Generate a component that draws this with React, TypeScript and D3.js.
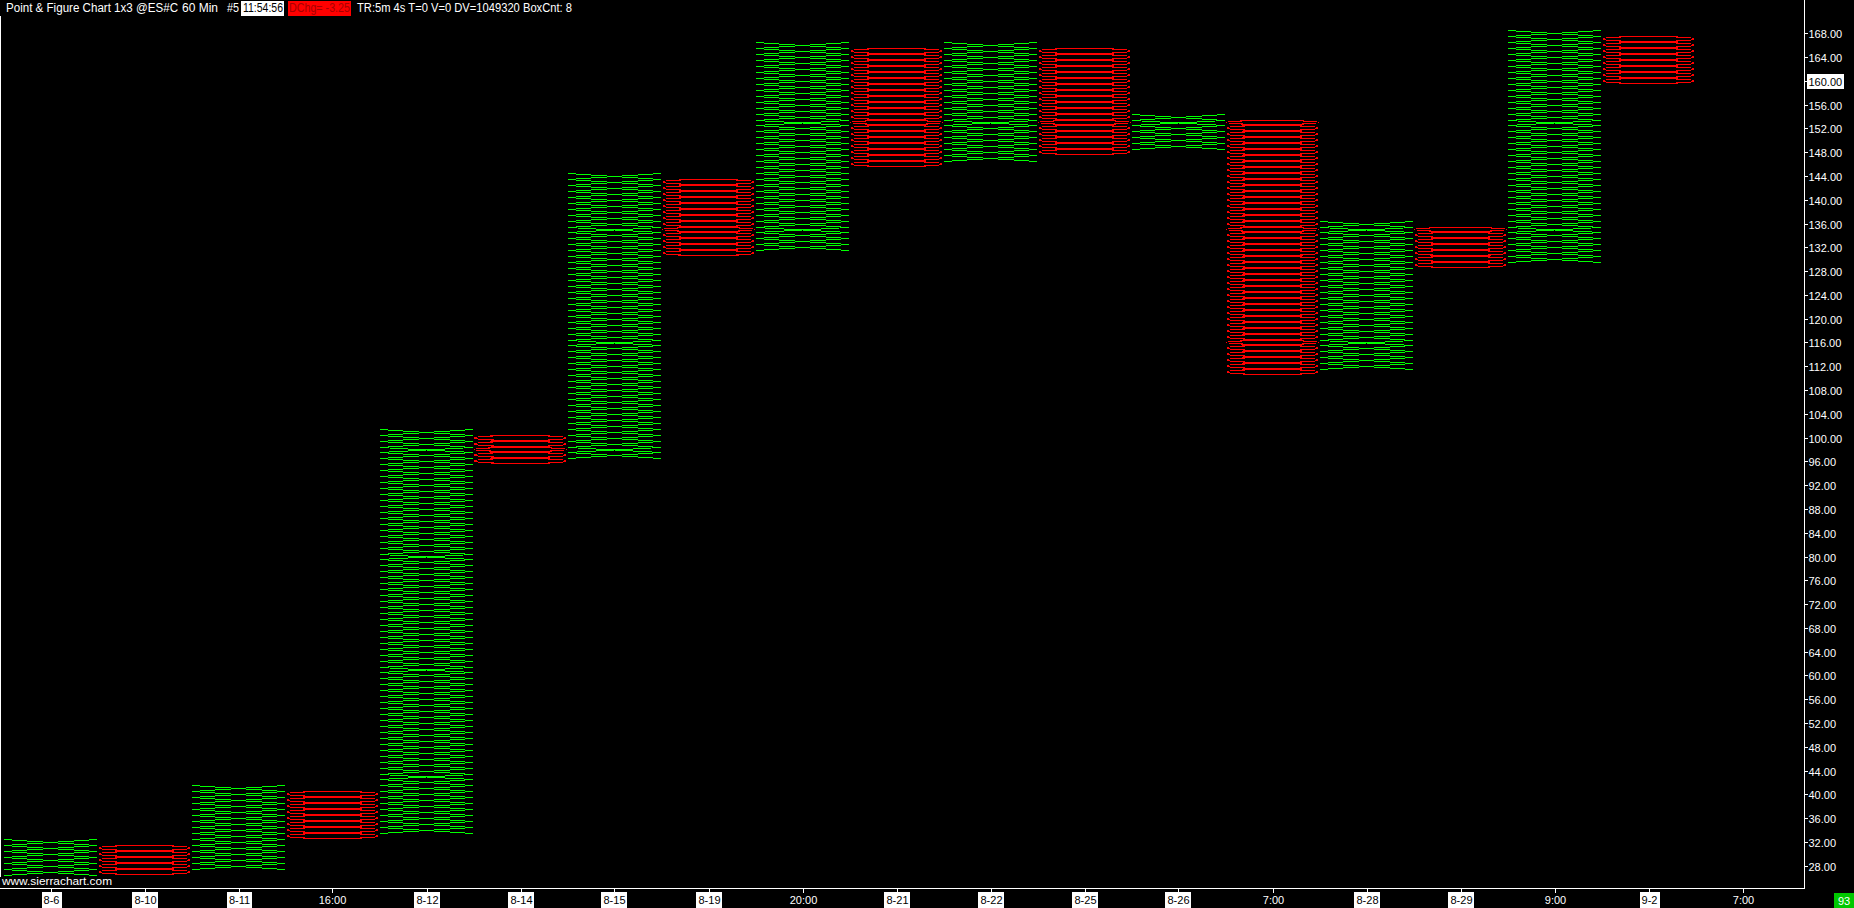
import React from "react";
import * as d3 from "d3";

// ---- data ----
const xLabels = ["8-6", "8-10", "8-11", "16:00", "8-12", "8-14", "8-15", "8-19", "20:00", "8-21", "8-22", "8-25", "8-26", "7:00", "8-28", "8-29", "9:00", "9-2", "7:00"];
const xLabelBoxed = [true, true, true, false, true, true, true, true, false, true, true, true, true, false, true, true, false, true, false];
const colTypes = ["X", "O", "X", "O", "X", "O", "X", "O", "X", "O", "X", "O", "X", "O", "X", "O", "X", "O"];
const colLows = [27, 27, 28, 33, 34, 96, 97, 131, 132, 146, 147, 148, 149, 111, 112, 129, 130, 160];
const colHighs = [32, 31, 41, 40, 101, 100, 144, 143, 166, 165, 166, 165, 154, 153, 136, 135, 168, 167];
const yTicks = d3.range(28, 169, 4);
const lastPrice = 160;
const boxSize = 1;
const titleParts = ["Point & Figure Chart 1x3 @ES#C", "60 Min", "#5", "11:54:56", "DChg= -3.25", "TR:5m 4s T=0 V=0 DV=1049320 BoxCnt: 8"];
const barCountText = "93";
const watermark = "www.sierrachart.com";

const W = 1854;
const H = 908;
const FONT = "'Liberation Sans', Arial, sans-serif";
const GREEN = "#00ff00";
const RED = "#ff0000";

let measureCtx: CanvasRenderingContext2D | null = null;
function textWidth(s: string, size = 11) {
  if (!measureCtx) {
    const c = document.createElement("canvas");
    measureCtx = c.getContext("2d");
  }
  if (!measureCtx) return s.length * 6;
  measureCtx.font = `${size}px 'Liberation Sans', Arial, sans-serif`;
  return measureCtx.measureText(s).width;
}

export default function App() {
  const y = d3.scaleLinear().domain([28, 168]).range([865.7, 33.3]);
  const x = d3.scaleLinear().domain([0, 18]).range([50.5, 1742.5]);
  const half = 46.5;
  const axisX = 1804.5;
  const bottomY = 888.5;

  const marks: React.ReactNode[] = [];
  colTypes.forEach((t, i) => {
    const cx = x(i);
    const L = cx - half;
    const R = cx + half;
    for (let p = colLows[i]; p <= colHighs[i]; p += boxSize) {
      const T = Math.round(y(p + boxSize / 2));
      const B = Math.round(y(p - boxSize / 2));
      if (t === "X") {
        marks.push(
          <path
            key={`x${i}-${p}`}
            d={`M${L},${T + 0.5}L${R},${B + 0.5}M${L},${B + 0.5}L${R},${T + 0.5}`}
            stroke={GREEN}
            strokeWidth={1}
            fill="none"
          />
        );
      } else {
        marks.push(
          <ellipse
            key={`o${i}-${p}`}
            cx={cx}
            cy={(T + B) / 2}
            rx={half - 0.5}
            ry={(B - T - 1) / 2}
            stroke={RED}
            strokeWidth={1}
            fill="none"
          />
        );
      }
    }
  });

  return (
    <div style={{ position: "absolute", left: 0, top: 0, width: W, height: H, background: "#000", overflow: "hidden" }}>
      <svg width={W} height={H} style={{ display: "block" }} fontFamily={FONT}>
        <rect x={0} y={0} width={W} height={H} fill="#000" />
        <g shapeRendering="crispEdges">{marks}</g>

        {/* left border */}
        <line x1={0.5} x2={0.5} y1={16} y2={877} stroke="#fff" shapeRendering="crispEdges" />

        {/* title */}
        <g fontSize={12} fill="#fff">
          <text x={6} y={12} textLength={172} lengthAdjust="spacingAndGlyphs">{titleParts[0]}</text>
          <text x={182} y={12} textLength={36} lengthAdjust="spacingAndGlyphs">{titleParts[1]}</text>
          <text x={227} y={12} textLength={12} lengthAdjust="spacingAndGlyphs">{titleParts[2]}</text>
          <rect x={241} y={1} width={43} height={15} fill="#fff" shapeRendering="crispEdges" />
          <text x={243} y={12} textLength={40} lengthAdjust="spacingAndGlyphs" fill="#000">{titleParts[3]}</text>
          <rect x={288} y={1} width={63} height={15} fill={RED} shapeRendering="crispEdges" />
          <text x={289} y={12} textLength={61} lengthAdjust="spacingAndGlyphs" fill="#a80000">{titleParts[4]}</text>
          <text x={357} y={12} textLength={215} lengthAdjust="spacingAndGlyphs">{titleParts[5]}</text>
        </g>

        {/* y axis */}
        <line x1={axisX} x2={axisX} y1={0} y2={bottomY} stroke="#fff" shapeRendering="crispEdges" />
        <g fontSize={11} fill="#fff">
          {yTicks.map((v) => {
            const yy = Math.round(y(v)) + 0.5;
            const isLast = v === lastPrice;
            const label = v.toFixed(2);
            return (
              <g key={`yt${v}`}>
                <line x1={axisX} x2={axisX + 3} y1={yy} y2={yy} stroke="#fff" shapeRendering="crispEdges" />
                {isLast && (
                  <rect x={1807} y={yy - 7.5} width={textWidth(label) + 3} height={15} fill="#fff" shapeRendering="crispEdges" />
                )}
                <text x={1808.5} y={yy + 4} fill={isLast ? "#000" : "#fff"}>{label}</text>
              </g>
            );
          })}
        </g>

        {/* x axis */}
        <line x1={0} x2={axisX} y1={bottomY} y2={bottomY} stroke="#fff" shapeRendering="crispEdges" />
        <g fontSize={11}>
          {xLabels.map((lab, i) => {
            const xx = Math.round(x(i)) + 0.5;
            const w = textWidth(lab);
            return (
              <g key={`xl${i}`}>
                <line x1={xx} x2={xx} y1={bottomY} y2={bottomY + 4} stroke="#fff" shapeRendering="crispEdges" />
                {xLabelBoxed[i] && (
                  <rect x={Math.round(xx - w / 2 - 2)} y={892} width={Math.round(w + 4)} height={16} fill="#fff" shapeRendering="crispEdges" />
                )}
                <text x={xx} y={904} textAnchor="middle" fill={xLabelBoxed[i] ? "#000" : "#fff"}>{lab}</text>
              </g>
            );
          })}
        </g>

        {/* watermark */}
        <text x={2} y={885} fontSize={11} fill="#fff" textLength={110} lengthAdjust="spacingAndGlyphs">{watermark}</text>

        {/* bar count box */}
        <rect x={1834} y={893} width={20} height={15} fill="#00c800" shapeRendering="crispEdges" />
        <text x={1844} y={905} fontSize={11} fill="#fff" textAnchor="middle">{barCountText}</text>
      </svg>
    </div>
  );
}
